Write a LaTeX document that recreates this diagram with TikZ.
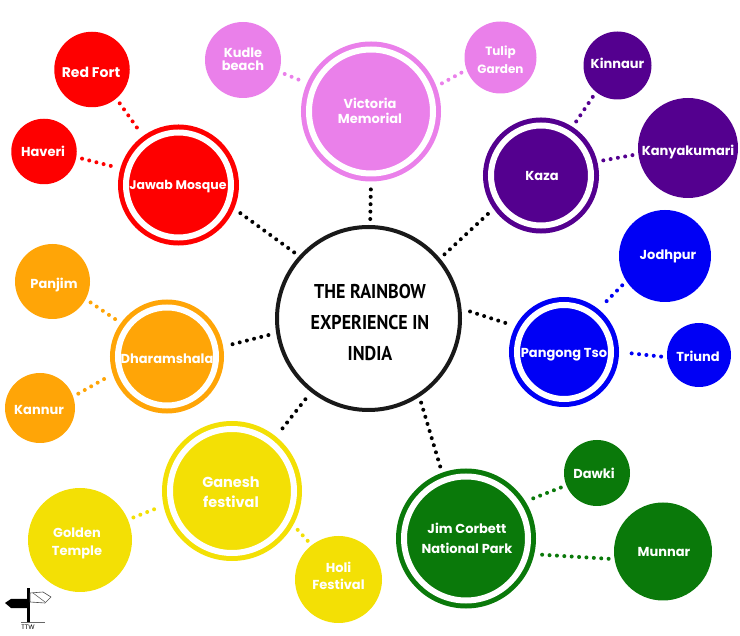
\documentclass[tikz,border=0pt]{standalone}
\usepackage{fontspec}
\setmainfont{Poppins}
\newfontfamily\titlefont[FakeStretch=0.9]{PT Sans}
\usetikzlibrary{shapes,arrows}
\definecolor{rbred}{HTML}{FE0000}
\definecolor{rbpink}{HTML}{EA80EA}
\definecolor{rbpurple}{HTML}{54008F}
\definecolor{rbblue}{HTML}{0000F5}
\definecolor{rborange}{HTML}{FFA507}
\definecolor{rbyellow}{HTML}{F3E005}
\definecolor{rbgreen}{HTML}{0A790A}
% text moved by dx,dy inside its circle
\newcommand\lbl[3]{\raisebox{-#2pt}[\dimexpr\height+#2pt\relax]{\makebox[0pt]{\kern#1pt\kern#1pt\begin{tabular}{@{}c@{}}#3\end{tabular}}}}
\begin{document}
\begin{tikzpicture}[x=1pt,y=-1pt]
\tikzstyle{spot}=[circle,inner sep=0pt,outer sep=0pt,text=white,font=\bfseries\fontsize{13}{15}\selectfont]
\tikzstyle{leaf}=[spot,fill=#1]
\tikzstyle{hub}=[spot,fill=#1,draw=#1,double=white,double distance=6pt,line width=5pt,outer sep=8pt]
\tikzstyle{link}=[draw=#1,line width=4pt,line cap=round,dash pattern=on 0pt off 7.4pt,shorten >=6pt,shorten <=6pt]
\useasboundingbox (0,0) rectangle (740,636);
% middle
\node[circle,draw=black!90,line width=4pt,minimum size=183pt,inner sep=0pt,font=\titlefont\bfseries\fontsize{20}{31}\selectfont] (india) at (368.5,318.5) {\lbl{1.5}{5.3}{THE RAINBOW\\EXPERIENCE IN\\INDIA}};
% hubs
\node[hub=rbred,minimum size=105pt,font=\bfseries\fontsize{12.5}{15}\selectfont] (jawab) at (178.5,185) {\lbl{-.5}{1.5}{Jawab Mosque}};
\node[hub=rbpink,minimum size=124pt] (victoria) at (371,111.5) {\lbl{-1}{1.5}{Victoria\\Memorial}};
\node[hub=rbpurple,minimum size=100pt] (kaza) at (541,175.5) {\lbl{1}{2}{Kaza}};
\node[hub=rbblue,minimum size=94pt] (pangong) at (564,352) {\lbl{0}{2.5}{Pangong Tso}};
\node[hub=rborange,minimum size=98pt] (dharamshala) at (167,356.5) {\lbl{0}{4}{Dharamshala}};
\node[hub=rbyellow,minimum size=124pt,font=\bfseries\fontsize{14.5}{15}\selectfont] (ganesh) at (232,491) {\lbl{-1}{3}{Ganesh\\[4pt]festival}};
\node[hub=rbgreen,minimum size=124pt] (corbett) at (466,538.5) {\lbl{1}{2}{Jim Corbett\\[5pt]National Park}};
% leaves
\node[leaf=rbred,minimum size=75.5pt,font=\bfseries\fontsize{14}{15}\selectfont] (redfort) at (92,69.5) {\lbl{-1}{5}{Red Fort}};
\node[leaf=rbred,minimum size=65.5pt] (haveri) at (44,151.5) {\lbl{-1}{2}{Haveri}};
\node[leaf=rbpink,minimum size=76pt] (kudle) at (243,60) {\lbl{0}{1}{Kudle\\[-2pt]beach}};
\node[leaf=rbpink,minimum size=72pt,font=\bfseries\fontsize{12}{15}\selectfont] (tulip) at (500.5,57.5) {\lbl{0}{4}{Tulip\\[3pt]Garden}};
\node[leaf=rbpurple,minimum size=68pt] (kinnaur) at (617.5,65.5) {\lbl{0}{0}{Kinnaur}};
\node[leaf=rbpurple,minimum size=100pt] (kanya) at (688,148) {\lbl{0}{4.5}{Kanyakumari}};
\node[leaf=rbblue,minimum size=92pt] (jodhpur) at (665,256) {\lbl{3}{.5}{Jodhpur}};
\node[leaf=rbblue,minimum size=64pt] (triund) at (699,355) {\lbl{-1}{3.5}{Triund}};
\node[leaf=rborange,minimum size=75pt] (panjim) at (52.5,281.5) {\lbl{1.5}{4}{Panjim}};
\node[leaf=rborange,minimum size=70pt] (kannur) at (40,408) {\lbl{-1}{3.5}{Kannur}};
\node[leaf=rbyellow,minimum size=104pt] (golden) at (80,540) {\lbl{-3}{3.5}{Golden\\[3pt]Temple}};
\node[leaf=rbyellow,minimum size=87pt] (holi) at (338.5,579.5) {\lbl{0}{-1.5}{Holi\\[2pt]Festival}};
\node[leaf=rbgreen,minimum size=66pt] (dawki) at (597,473) {\lbl{-3}{2.5}{Dawki}};
\node[leaf=rbgreen,minimum size=98pt] (munnar) at (663,551.5) {\lbl{1}{2}{Munnar}};
% dots
\path[link=black] (india.138.8) edge (jawab.-23.4)
      (india.89) edge (victoria.-90.8)
      (india.40) edge (kaza.215.3)
      (india.6.3) edge[shorten <=9pt,shorten >=9pt] (pangong.152)
      (india.-57.4) edge (corbett.110.7)
      (india.232.4) edge[shorten <=9pt] (ganesh.51)
      (india.189.3) edge[shorten <=8pt,shorten >=8pt] (dharamshala.10);
\path[link=rbred] (redfort.-50.8) edge (jawab.126.4)
      (haveri.-10.9) edge (jawab.164);
\path[link=rbpink] (kudle.-18.8) edge (victoria.156.5)
      (tulip.200.6) edge (victoria.21.4);
\path[link=rbpurple] (kinnaur.231) edge (kaza.57.8)
      (kanya.187.4) edge (kaza.14.7);
\path[link=rbblue] (jodhpur.213.7) edge (pangong.51.3)
      (triund.184.6) edge (pangong.0);
\path[link=rborange] (panjim.-28) edge (dharamshala.144.4)
      (kannur.19.3) edge (dharamshala.198.6);
\path[link=rbyellow] (golden.23) edge (ganesh.192)
      (holi.128.4) edge (ganesh.-29.6);
\path[link=rbgreen] (dawki.202) edge (corbett.32)
      (munnar.189.8) edge (corbett.-13.3);
% signpost
\fill[black] (27,588) rectangle (30,622);
\fill[black] (5,603) -- (11,599) -- (27,599) -- (27,608) -- (11,608) -- cycle;
\draw[black!70,line width=.6pt,fill=white] (30,593) -- (43,592) -- (51,597) -- (45,603) -- (30,602) -- cycle;
\draw[black!70,line width=.5pt] (33,593) -- (45,602);
\draw[black!60,line width=.6pt] (21,622.5) -- (45,622.5);
\node[inner sep=0pt,font=\fontsize{6.5}{7}\selectfont] (ttw) at (28,627.5) {TTW};
\end{tikzpicture}
\end{document}
